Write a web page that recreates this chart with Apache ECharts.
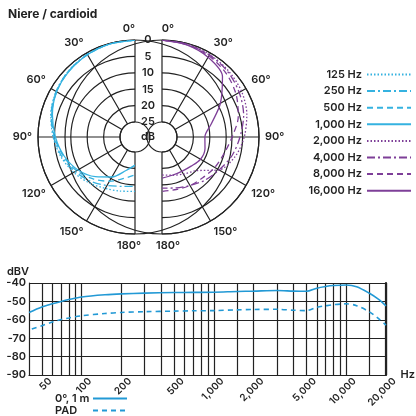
<!DOCTYPE html>
<html>
<head>
<meta charset="utf-8">
<script src="https://cdn.jsdelivr.net/npm/echarts@6/dist/echarts.min.js"></script>
<style>
  html, body { margin: 0; padding: 0; background: #fff; }
  #chart { width: 416px; height: 416px; }
</style>
</head>
<body>
<div id="chart"></div>
<script>
// polar pattern: attenuation in dB versus angle (degrees off axis)
const angles = [0, 15, 30, 45, 60, 75, 90, 105, 120, 135, 150, 165, 180];
const hz125 = [0, 0.2, 0.5, 1, 1.8, 3, 4.6, 6.2, 8, 9.8, 11.5, 12.5, 13];
const hz250 = [0, 0.2, 0.5, 1, 1.8, 3.1, 4.8, 6.5, 8.5, 10.5, 12.5, 14, 14.5];
const hz500 = [0, 0.2, 0.6, 1.1, 2, 3.3, 5, 7, 9, 11.5, 14, 16.5, 18];
const hz1000 = [0, 0.2, 0.6, 1.2, 2, 3.5, 5.3, 7.2, 9.5, 12.5, 15.5, 19, 21];
const hz2000 = [0, 0.2, 0.5, 1, 1.6, 2.8, 4.5, 6.5, 9.5, 15, 16.5, 17.5, 18];
const hz4000 = [0, 0.3, 0.7, 1.3, 2.4, 3.8, 5.8, 7.5, 9.5, 11, 12.5, 13.5, 14];
const hz8000 = [0, 0.4, 1, 2, 3.5, 5.5, 8.2, 10, 11, 12, 12.5, 13, 13];
const hz16000 = [0, 0.5, 1.5, 3.5, 9, 14, 16.5, 16, 16, 17, 17.5, 17.5, 17];

// frequency response
const freqs = [40, 50, 60, 70, 80, 100, 150, 200, 300, 500, 700, 1000, 1500, 2000, 3000, 4000, 5000, 6000, 7000, 8000, 10000, 12000, 15000, 17500, 20000];
const onAxis = [-56, -53, -51.3, -50, -49, -47.6, -46.4, -45.9, -45.5, -45.2, -45.1, -45, -44.6, -44.4, -44.1, -44.4, -44.5, -42.8, -41.9, -41.4, -41.1, -42, -45.6, -48.8, -52.4];
const padFreqs = [42, 50, 60, 70, 80, 100, 150, 200, 300, 500, 700, 1000, 1500, 2000, 3000, 4000, 5000, 6000, 7000, 8000, 10000, 12000, 15000, 17500, 20000];
const pad = [-65, -63.2, -61.2, -59.8, -59, -57.8, -56.6, -56, -55.6, -55.3, -55.1, -55, -54.6, -54.4, -54.3, -54.8, -55, -53.2, -52.4, -51.8, -51.3, -52.3, -55.7, -59.2, -62.9];

const gridFreqs = [50, 60, 70, 80, 90, 100, 200, 300, 400, 500, 600, 700, 800, 900, 1000, 1500, 2000, 3000, 4000, 5000, 6000, 7000, 8000, 9000, 10000, 15000, 20000];
const labelFreqs = [50, 100, 200, 500, 1000, 2000, 5000, 10000, 20000];

const blue = '#35b2e0';
const purple = '#7e3f98';
const respBlue = '#2299d5';
const ink = '#222';
const font = 'Inter, "Liberation Sans", sans-serif';

var chartDom = document.getElementById('chart');
var myChart = echarts.init(chartDom);

const gridLine = { color: ink, width: 1.2 };
const txt = { color: ink, fontSize: 11, fontWeight: 600, fontFamily: font };

const polarSeries = [
  { name: '125 Hz', data: hz125, color: blue, type: [1.5, 2], idx: 0 },
  { name: '250 Hz', data: hz250, color: blue, type: [8, 3, 2, 3], idx: 0 },
  { name: '500 Hz', data: hz500, color: blue, type: [6, 4], idx: 0 },
  { name: '1,000 Hz', data: hz1000, color: blue, type: 'solid', idx: 0 },
  { name: '2,000 Hz', data: hz2000, color: purple, type: [1.5, 2], idx: 1 },
  { name: '4,000 Hz', data: hz4000, color: purple, type: [8, 3, 2, 3], idx: 1 },
  { name: '8,000 Hz', data: hz8000, color: purple, type: [6, 4], idx: 1 },
  { name: '16,000 Hz', data: hz16000, color: purple, type: 'solid', idx: 1 }
];

// 0° / 180° labels sit beside the dividing line, on the outer side of each half
function angleLabel(side) {
  return Object.assign({
    margin: 6,
    formatter: v => (v === 0 || v === 180) ? '{' + side + '|' + v + '°}' : v + '°',
    rich: {
      l: Object.assign({ padding: [0, 12, 0, 0] }, txt),
      r: Object.assign({ padding: [0, 0, 0, 12] }, txt)
    }
  }, txt);
}

const angleAxisBase = {
  type: 'value', min: 0, max: 180, interval: 30, startAngle: 90,
  axisLine: { lineStyle: gridLine },
  axisTick: { show: false },
  splitLine: { lineStyle: gridLine }
};

const radiusAxisBase = {
  type: 'value', min: 0, max: 25, interval: 5, inverse: true,
  axisLine: { show: false },
  axisTick: { show: false },
  splitLine: { lineStyle: gridLine }
};

var option = {
  textStyle: { fontFamily: font },
  title: {
    text: 'Niere / cardioid', left: 3, top: 3,
    textStyle: { fontSize: 12, fontWeight: 'bold', color: ink, fontFamily: font }
  },
  legend: [
    {
      data: polarSeries.map(s => s.name),
      orient: 'vertical', align: 'right', right: 4, top: 69, padding: 0,
      itemWidth: 44, itemHeight: 10, itemGap: 5.6,
      itemStyle: { opacity: 0 },
      textStyle: txt
    },
    {
      data: ['0°, 1 m', 'PAD'],
      orient: 'vertical', align: 'right', left: 55, top: 393, padding: 0,
      itemWidth: 34, itemHeight: 8, itemGap: 1,
      itemStyle: { opacity: 0 },
      formatter: name => '{t|' + name + '}',
      textStyle: Object.assign({ lineHeight: 11, rich: { t: Object.assign({ width: 33, align: 'left', lineHeight: 11 }, txt) } }, txt)
    }
  ],
  polar: [
    { center: [135, 137], radius: [15, 97] },
    { center: [162, 137], radius: [15, 97] }
  ],
  angleAxis: [
    Object.assign({ polarIndex: 0, endAngle: 270, clockwise: false, axisLabel: angleLabel('l') }, angleAxisBase),
    Object.assign({ polarIndex: 1, endAngle: -90, clockwise: true, axisLabel: angleLabel('r') }, angleAxisBase)
  ],
  radiusAxis: [
    Object.assign({ polarIndex: 0, axisLabel: { show: false } }, radiusAxisBase),
    Object.assign({
      polarIndex: 1,
      axisLabel: Object.assign({ margin: 14, align: 'center' }, txt),
      name: 'dB', nameLocation: 'end', nameGap: 15,
      nameTextStyle: Object.assign({ align: 'center', verticalAlign: 'middle', padding: [0, 28, 0, 0] }, txt)
    }, radiusAxisBase)
  ],
  grid: { left: 29, right: 27, top: 283, height: 92 },
  xAxis: {
    type: 'log', logBase: 10, min: 40, max: 20000,
    name: 'Hz', nameLocation: 'end', nameGap: 4, nameTextStyle: txt,
    axisLine: { show: true, lineStyle: gridLine },
    axisTick: { show: false, customValues: gridFreqs },
    axisLabel: Object.assign({
      customValues: labelFreqs, rotate: 45, margin: -4, verticalAlign: 'top', padding: [7, 0, 0, 0],
      formatter: v => Number(v).toLocaleString('en-US')
    }, txt, { fontSize: 10 }),
    splitLine: { show: true, lineStyle: gridLine }
  },
  yAxis: [
    {
      type: 'value', min: -90, max: -40, interval: 10,
      name: 'dBV', nameLocation: 'end', nameGap: 6,
      nameTextStyle: Object.assign({ align: 'right' }, txt),
      axisLine: { show: true, lineStyle: gridLine },
      axisTick: { show: false },
      axisLabel: Object.assign({ margin: 3 }, txt),
      splitLine: { lineStyle: gridLine }
    },
    {
      type: 'value', min: -90, max: -40, interval: 10, position: 'right',
      axisLine: { show: true, lineStyle: { color: ink, width: 2.2 } },
      axisTick: { show: false }, axisLabel: { show: false }, splitLine: { show: false }
    }
  ],
  series: polarSeries.map(s => ({
    name: s.name, type: 'line', coordinateSystem: 'polar', polarIndex: s.idx,
    smooth: 0.3, showSymbol: false, symbol: 'none', color: s.color,
    lineStyle: { color: s.color, width: 1.3, type: s.type },
    data: angles.map((a, i) => [s.data[i], a])
  })).concat([
    {
      name: '0°, 1 m', type: 'line', smooth: 0.3, showSymbol: false, symbol: 'none',
      color: respBlue, lineStyle: { color: respBlue, width: 1.6 },
      data: freqs.map((f, i) => [f, onAxis[i]])
    },
    {
      name: 'PAD', type: 'line', smooth: 0.3, showSymbol: false, symbol: 'none',
      color: respBlue, lineStyle: { color: respBlue, width: 1.6, type: [5, 4] },
      data: padFreqs.map((f, i) => [f, pad[i]])
    }
  ])
};

option && myChart.setOption(option);
</script>
</body>
</html>
